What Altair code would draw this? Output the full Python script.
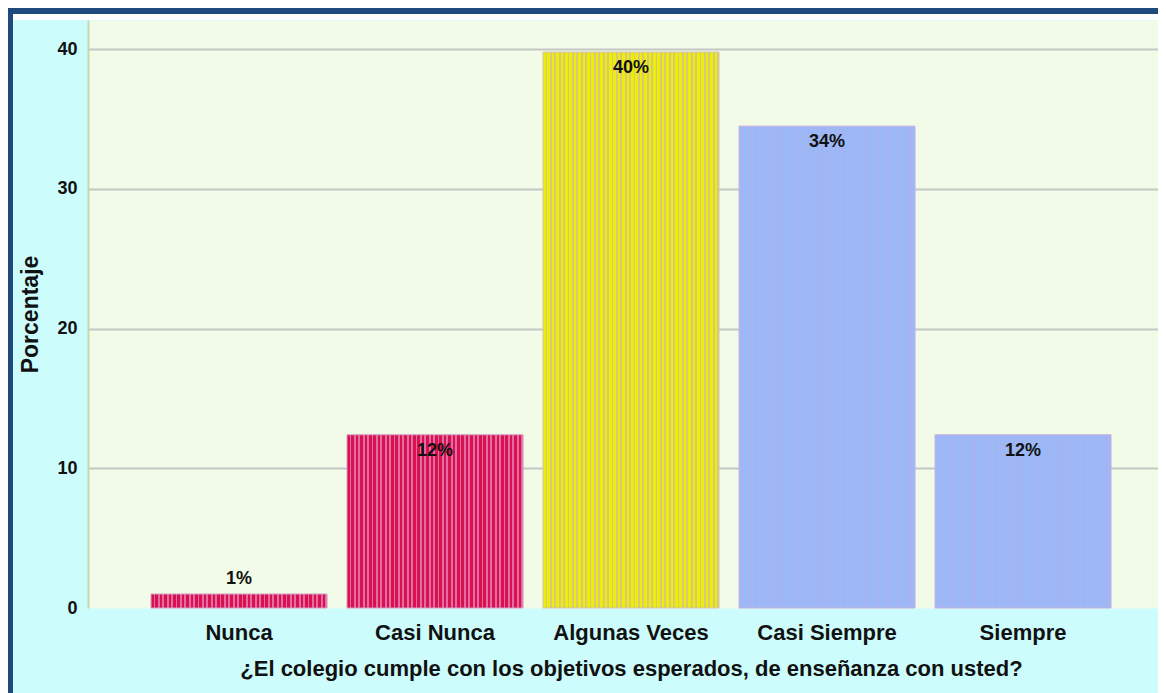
import altair as alt
import pandas as pd

categories = ["Nunca", "Casi Nunca", "Algunas Veces", "Casi Siempre", "Siempre"]
percentages = [1.0, 12.4, 39.8, 34.5, 12.4]
value_labels = ["1%", "12%", "40%", "34%", "12%"]
color_groups = ["rojo", "rojo", "amarillo", "azul", "azul"]
y_ticks = [0, 10, 20, 30, 40]
x_title = "¿El colegio cumple con los objetivos esperados, de enseñanza con usted?"
y_title = "Porcentaje"

df = pd.DataFrame({
    "categoria": categories,
    "porcentaje": percentages,
    "etiqueta": value_labels,
    "grupo": color_groups,
})

W, H = 1070, 588
FONT = "Liberation Sans"
TXT = "#111111"


def stripes(c1, c2, n=40, frac=0.58):
    stops = []
    for i in range(n):
        a = i / n
        b = (i + frac) / n
        c = (i + 1) / n
        stops += [
            alt.GradientStop(offset=a, color=c1),
            alt.GradientStop(offset=b, color=c1),
            alt.GradientStop(offset=b, color=c2),
            alt.GradientStop(offset=c, color=c2),
        ]
    return alt.LinearGradient(gradient="linear", stops=stops, x1=0, x2=1, y1=0, y2=0)


x_enc = alt.X(
    "categoria:N",
    sort=categories,
    scale=alt.Scale(domain=categories, paddingInner=0.102, paddingOuter=0.2806, align=0.573),
    axis=alt.Axis(
        title=x_title,
        labelAngle=0,
        labelFont=FONT,
        labelFontSize=22,
        labelFontWeight="bold",
        labelColor=TXT,
        labelPadding=24,
        labelBaseline="middle",
        ticks=False,
        tickSize=0,
        domain=False,
        titleFont=FONT,
        titleFontSize=22,
        titleFontWeight="bold",
        titleColor=TXT,
        titleX=543,
        titleY=60,
        titleBaseline="middle",
        titleAlign="center",
    ),
)

y_enc = alt.Y(
    "porcentaje:Q",
    scale=alt.Scale(domain=[0, 42.1], nice=False, zero=True),
    axis=alt.Axis(
        title=y_title,
        values=y_ticks,
        format="d",
        labelFont=FONT,
        labelFontSize=18,
        labelFontWeight="bold",
        labelColor=TXT,
        labelPadding=11,
        ticks=False,
        domainColor="#C3DAB0",
        domainWidth=2,
        grid=True,
        gridColor=alt.condition("datum.value == 0", alt.value("transparent"), alt.value("#C6C6C6")),
        gridWidth=2,
        titleFont=FONT,
        titleFontSize=23,
        titleFontWeight="bold",
        titleColor=TXT,
        titleX=-58,
        titleY=H / 2,
        titleAngle=270,
        titleBaseline="middle",
        titleAlign="center",
    ),
)

base = alt.Chart(df).encode(x=x_enc, y=y_enc)

bars_red = base.transform_filter(alt.datum.grupo == "rojo").mark_bar(
    color=stripes("#D7124E", "#E46CA4"), stroke="#D49AC4", strokeWidth=1
)
bars_yellow = base.transform_filter(alt.datum.grupo == "amarillo").mark_bar(
    color=stripes("#ECEE08", "#D9C87A", frac=0.6), stroke="#CFC3B4", strokeWidth=1
)
bars_blue = base.transform_filter(alt.datum.grupo == "azul").mark_bar(
    color=stripes("#98BAF8", "#AEAEEC", frac=0.7), stroke="#C8B0E0", strokeWidth=1
)

text_in = base.transform_filter("datum.porcentaje >= 5").mark_text(
    dy=16, font=FONT, fontSize=18, fontWeight="bold", color=TXT, baseline="middle"
).encode(text="etiqueta:N")
text_out = base.transform_filter("datum.porcentaje < 5").mark_text(
    dy=-15, font=FONT, fontSize=18, fontWeight="bold", color=TXT, baseline="middle"
).encode(text="etiqueta:N")

deco = alt.Chart(alt.Data(values=[{}]))
white_strip = deco.mark_rect(color="white").encode(
    x=alt.value(-75), x2=alt.value(W), y=alt.value(-6), y2=alt.value(0)
)
top_border = deco.mark_rule(color="#1F4A7E", strokeWidth=6).encode(
    x=alt.value(-80), x2=alt.value(W), y=alt.value(-9)
)
left_border = deco.mark_rule(color="#1F4A7E", strokeWidth=5).encode(
    x=alt.value(-77.5), y=alt.value(-12), y2=alt.value(H + 90)
)

chart = (
    alt.layer(white_strip, top_border, left_border, bars_red, bars_yellow, bars_blue, text_in, text_out)
    .properties(
        width=W,
        height=H,
        background="#CCFCFC",
        padding={"left": 80, "top": 12, "right": 0, "bottom": 85},
        autosize=alt.AutoSizeParams(type="none"),
    )
    .configure_view(fill="#F1FBE7", stroke="transparent")
)

chart.save("out.html", embed_options={"renderer": "svg", "actions": False})
